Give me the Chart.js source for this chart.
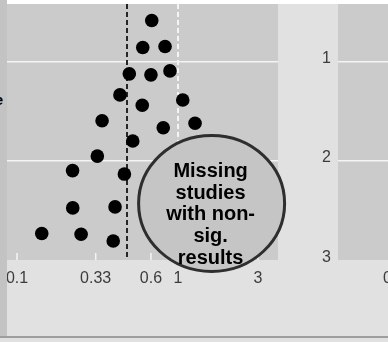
<!DOCTYPE html>
<html><head><meta charset="utf-8">
<script src="https://cdn.jsdelivr.net/npm/chart.js@4.4.1/dist/chart.umd.min.js"></script>
<style>
html,body{margin:0;padding:0;width:388px;height:342px;overflow:hidden;background:#e1e1e1;position:relative}
#c1{position:absolute;left:0;top:0;z-index:2}
#c2{position:absolute;left:300px;top:0;z-index:1}
#topstrip{position:absolute;left:0;top:0;width:388px;height:4px;background:#ffffff;z-index:3}
#leftstrip{position:absolute;left:0;top:0;width:7px;height:336px;background:#c3c3c3;z-index:3}
#bottomline{position:absolute;left:0;top:336px;width:388px;height:2px;background:#9d9d9d;z-index:3}
#ylab{position:absolute;left:-120px;width:123px;top:91px;text-align:right;font:bold 15px "Liberation Sans",Arial,sans-serif;color:#000;z-index:4}
</style>
</head><body>
<canvas id="c2" width="330" height="342"></canvas>
<canvas id="c1" width="300" height="342"></canvas>
<div id="topstrip"></div>
<div id="leftstrip"></div>
<div id="bottomline"></div>
<div id="ylab">Sample size</div>
<script>
// ---- data (x in log10 odds ratio, y = standard error) ----
const logOR = [-0.160,-0.215,-0.079,-0.297,-0.165,-0.049,-0.354,-0.218,0.029,-0.463,-0.090,0.104,-0.276,-0.492,-0.643,-0.327,-0.642,-0.384,-0.831,-0.591,-0.395];
const stdErr = [0.586,0.859,0.848,1.124,1.134,1.094,1.336,1.440,1.387,1.596,1.667,1.622,1.801,1.953,2.099,2.134,2.475,2.465,2.733,2.740,2.808];
const pooledLogOR = -0.311;
const nullLogOR = 0;
const xTickValues = [-0.982,-0.502,-0.165,0,0.488];
const xTickLabels = ['0.1','0.33','0.6','1','3'];
const yGridValues = [1,2];
const yTickValues2 = [1,2,3];
const yTickLabels2 = ['1','2','3'];
const xTickValues2 = [-0.70];
const xTickLabels2 = ['0.1'];
const noteLines = ['Missing','studies','with non-','sig.','results'];
const noteCenter = {x:0.205, y:2.43};

const X_MIN=-1.043, X_MAX=0.61, Y_MIN=0.42, Y_MAX=3;
const tickFont = {family:'"Liberation Sans",Arial,sans-serif', size:16};

const noPad = s=>{s.paddingLeft=0;s.paddingRight=0;s.paddingTop=0;s.paddingBottom=0;};

const bgPlugin = {
  id:'bg',
  beforeDraw(chart){
    const a=chart.chartArea, c=chart.ctx;
    c.save(); c.fillStyle='#cbcbcb'; c.fillRect(a.left,a.top,a.right-a.left,a.bottom-a.top); c.restore();
  }
};
const innerTicks = {
  id:'innerTicks',
  afterDatasetsDraw(chart){
    const xs=chart.scales.x, a=chart.chartArea, c=chart.ctx;
    c.save(); c.strokeStyle='#f4f4f4'; c.lineWidth=1.5;
    xTickValues.forEach(v=>{const p=xs.getPixelForValue(v); c.beginPath(); c.moveTo(p,a.bottom); c.lineTo(p,a.bottom-7); c.stroke();});
    c.restore();
  }
};
const notePlugin = {
  id:'note',
  afterDraw(chart){
    const c=chart.ctx;
    const cx=chart.scales.x.getPixelForValue(noteCenter.x), cy=chart.scales.y.getPixelForValue(noteCenter.y);
    c.save();
    c.beginPath(); c.ellipse(cx,cy,73,68,0,0,Math.PI*2);
    c.fillStyle='#c5c5c5'; c.fill();
    c.lineWidth=3; c.strokeStyle='#2e2e2e'; c.stroke();
    c.fillStyle='#000'; c.font='bold 20px "Liberation Sans",Arial,sans-serif';
    c.textAlign='center'; c.textBaseline='middle';
    noteLines.forEach((t,i)=>c.fillText(t,cx-1,cy-32+i*21.7));
    c.restore();
  }
};

new Chart(document.getElementById('c1'),{
  data:{datasets:[
    {type:'scatter',data:logOR.map((v,i)=>({x:v,y:stdErr[i]})),backgroundColor:'#000',borderWidth:0,pointRadius:6.8,order:0},
    {type:'line',data:[{x:pooledLogOR,y:Y_MIN},{x:pooledLogOR,y:Y_MAX}],borderColor:'#262626',borderWidth:2,borderDash:[5,3],pointRadius:0,order:1},
    {type:'line',data:[{x:nullLogOR,y:Y_MIN},{x:nullLogOR,y:Y_MAX}],borderColor:'#f4f4f4',borderWidth:2,borderDash:[5,3],pointRadius:0,order:1}
  ]},
  options:{
    responsive:false,animation:false,devicePixelRatio:1,
    layout:{autoPadding:false,padding:{left:7,right:22,top:4,bottom:0}},
    plugins:{legend:{display:false},tooltip:{enabled:false}},
    scales:{
      x:{type:'linear',min:X_MIN,max:X_MAX,
        afterBuildTicks:s=>{s.ticks=xTickValues.map(v=>({value:v}));},
        afterFit:s=>{s.height=82;noPad(s);},
        ticks:{autoSkip:false,maxRotation:0,padding:9,color:'#3c3c3c',font:tickFont,callback:(v,i)=>xTickLabels[i]},
        grid:{display:false,drawTicks:false},border:{display:false}},
      y:{type:'linear',min:Y_MIN,max:Y_MAX,reverse:true,
        afterBuildTicks:s=>{s.ticks=yGridValues.map(v=>({value:v}));},
        afterFit:s=>{s.width=0;noPad(s);},
        ticks:{display:false},
        grid:{color:'#f4f4f4',lineWidth:1.6,drawTicks:false},border:{display:false}}
    }
  },
  plugins:[bgPlugin,innerTicks,notePlugin]
});

new Chart(document.getElementById('c2'),{
  data:{datasets:[{type:'scatter',data:[]}]},
  options:{
    responsive:false,animation:false,devicePixelRatio:1,
    layout:{autoPadding:false,padding:{left:0,right:21,top:4,bottom:0}},
    plugins:{legend:{display:false},tooltip:{enabled:false}},
    scales:{
      x:{type:'linear',min:X_MIN,max:X_MAX,
        afterBuildTicks:s=>{s.ticks=xTickValues2.map(v=>({value:v}));},
        afterFit:s=>{s.height=82;noPad(s);},
        ticks:{autoSkip:false,maxRotation:0,padding:9,color:'#3c3c3c',font:tickFont,callback:(v,i)=>xTickLabels2[i]},
        grid:{display:false,drawTicks:false},border:{display:false}},
      y:{type:'linear',min:Y_MIN,max:Y_MAX,reverse:true,
        afterBuildTicks:s=>{s.ticks=yTickValues2.map(v=>({value:v}));},
        afterFit:s=>{s.width=38;noPad(s);},
        ticks:{padding:7,color:'#3c3c3c',font:Object.assign({},tickFont,{lineHeight:0.35}),callback:(v,i)=>[yTickLabels2[i],'']},
        grid:{color:c=>c.tick&&c.tick.value===3?'rgba(0,0,0,0)':'#f4f4f4',lineWidth:1.6,drawTicks:false},border:{display:false}}
    }
  },
  plugins:[bgPlugin]
});
</script>
</body></html>
